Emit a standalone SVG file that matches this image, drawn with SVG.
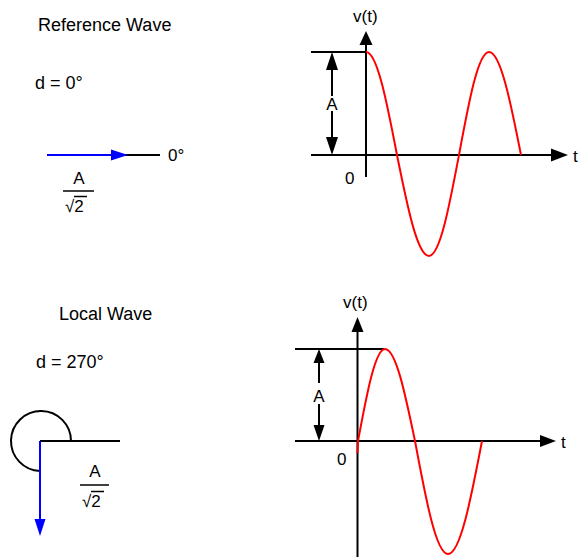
<svg xmlns="http://www.w3.org/2000/svg" width="579" height="557" viewBox="0 0 579 557">
<style>
text{font-family:"Liberation Sans",Arial,sans-serif;font-size:17px;fill:#000}
.t{font-size:18px}
.c{text-anchor:middle}
.ln{stroke:#000;stroke-width:2;fill:none}
.thin{stroke:#000;stroke-width:1.5;fill:none}
.bl{stroke:#0000ff;stroke-width:2;fill:none}
.rd{stroke:#ff0000;stroke-width:2;fill:none}
.ah{fill:#000}
.bh{fill:#0000ff}
</style>
<rect width="579" height="557" fill="#fff"/>
<g id="reference-phasor">
<text class="t" x="38" y="31">Reference Wave</text>
<text class="t" x="35" y="89">d = 0°</text>
<line class="ln" x1="120" y1="155" x2="160" y2="155"/>
<line class="bl" x1="47" y1="155" x2="114" y2="155"/>
<polygon class="bh" points="128,155 111,149.5 111,160.5"/>
<text x="168" y="161">0°</text>
<text class="c" x="79" y="184">A</text>
<line class="thin" x1="63" y1="191" x2="94" y2="191"/>
<text x="65" y="212" font-size="19">√2</text>
<line class="thin" x1="74" y1="196.5" x2="87" y2="196.5" stroke-width="1.2"/>
</g>
<g id="reference-graph">
<text x="353" y="22">v(t)</text>
<line class="ln" x1="366" y1="42" x2="366" y2="177"/>
<polygon class="ah" points="366,31 359.5,45 372.5,45"/>
<line class="ln" x1="311" y1="155" x2="556" y2="155"/>
<polygon class="ah" points="568,155 551,148.5 551,161.5"/>
<text x="573" y="162">t</text>
<line class="ln" x1="311" y1="52" x2="366" y2="52"/>
<line class="ln" x1="332" y1="66" x2="332" y2="96"/>
<line class="ln" x1="332" y1="111" x2="332" y2="141"/>
<polygon class="ah" points="332,52 326,70 338,70"/>
<polygon class="ah" points="332,155 326,137 338,137"/>
<text class="c" x="332" y="110">A</text>
<text x="345" y="184">0</text>
<path class="rd" d="M366 52 C377.2 52 386.9 102.2 397 155 C407.4 206.7 417.4 256 429 256 C439.9 256 449.2 206.7 459 155 C468.8 102.2 478.1 52 489 52 C500.6 52 510.6 102.2 521 155"/>
</g>
<g id="local-phasor">
<text class="t" x="59" y="320">Local Wave</text>
<text class="t" x="36" y="368">d = 270°</text>
<line class="ln" x1="40" y1="441" x2="120" y2="441"/>
<path class="ln" d="M71 441 A30 30 0 1 0 40 471"/>
<line class="bl" x1="40" y1="441" x2="40" y2="522"/>
<polygon class="bh" points="40,536 34.5,519 45.5,519"/>
<text class="c" x="95" y="477">A</text>
<line class="thin" x1="80" y1="485" x2="109" y2="485"/>
<text x="82" y="507" font-size="19">√2</text>
<line class="thin" x1="91" y1="491.5" x2="104" y2="491.5" stroke-width="1.2"/>
</g>
<g id="local-graph">
<text x="343" y="308">v(t)</text>
<line class="ln" x1="357.5" y1="328" x2="357.5" y2="557"/>
<polygon class="ah" points="357.5,317 351.5,332 363.5,332"/>
<line class="ln" x1="295" y1="441" x2="545" y2="441"/>
<polygon class="ah" points="556,441 540,435 540,447"/>
<text x="561" y="448">t</text>
<line class="ln" x1="295" y1="349" x2="384" y2="349"/>
<line class="ln" x1="319" y1="360" x2="319" y2="383"/>
<line class="ln" x1="319" y1="404" x2="319" y2="428"/>
<polygon class="ah" points="319,349 313.5,363 324.5,363"/>
<polygon class="ah" points="319,441 313.5,425 324.5,425"/>
<text class="c" x="319" y="402">A</text>
<text x="337" y="465">0</text>
<path class="rd" d="M357.5 453 Q357.6 446 358 441 C366.8 393.9 375.2 349 385 349 C395.9 349 405.2 393.9 415 441 C425.8 498.9 436.1 554 448 554 C460.3 554 470.9 498.9 482 441"/>
</g>
</svg>
